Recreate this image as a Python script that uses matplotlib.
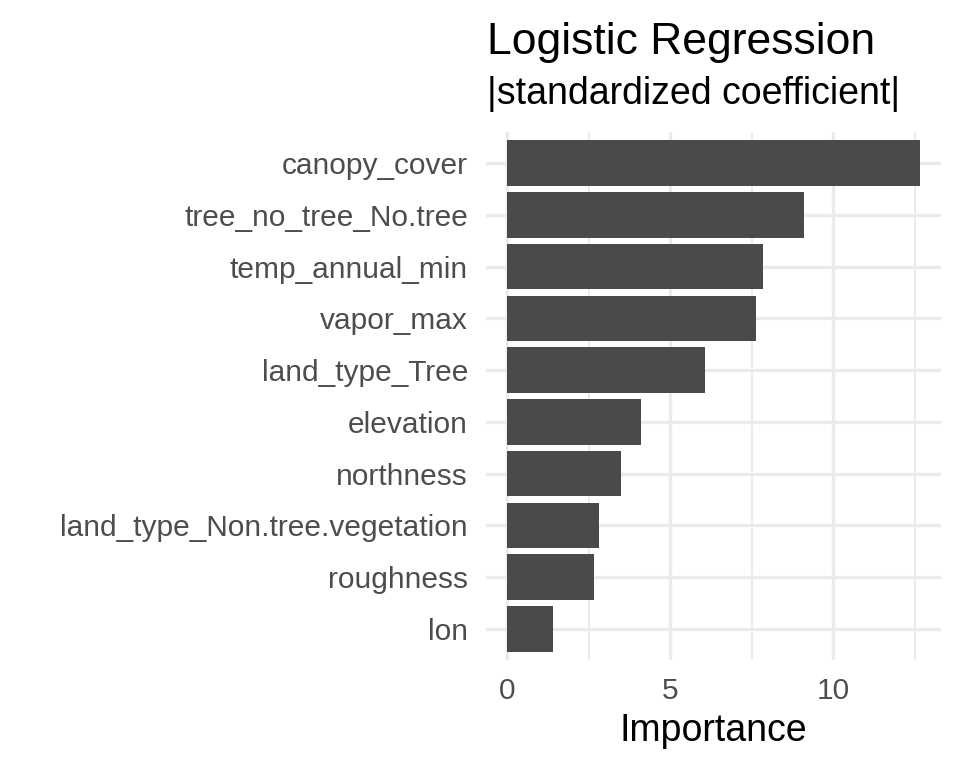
import matplotlib
matplotlib.use("Agg")
import matplotlib.pyplot as plt
import numpy as np

# values
features = ["lon", "roughness", "land_type_Non.tree.vegetation", "northness",
            "elevation", "land_type_Tree", "vapor_max", "temp_annual_min",
            "tree_no_tree_No.tree", "canopy_cover"]
importance = [1.40, 2.66, 2.82, 3.49, 4.10, 6.06, 7.63, 7.84, 9.10, 12.67]
x_ticks = [0, 5, 10]
x_minor = [2.5, 7.5, 12.5]

plt.rcParams['font.family'] = ['Liberation Sans', 'DejaVu Sans']

fig = plt.figure(figsize=(9.6, 7.68), dpi=100)
ax = fig.add_axes([486/960, 1-660/768, 455/960, 528/768])

pos = np.arange(1, len(features)+1)
ax.barh(pos, importance, height=0.88, color='#4A4A4A', zorder=3)

ax.set_xlim(-0.644, 13.31)
ax.set_ylim(0.4, len(features)+0.6)
ax.set_xticks(x_ticks)
ax.set_xticks(x_minor, minor=True)
ax.set_yticks(pos)
ax.set_yticklabels(features)
ax.tick_params(axis='both', which='both', length=0, labelsize=21.5, labelcolor='#4D4D4D')
ax.tick_params(axis='y', pad=13)
ax.tick_params(axis='x', pad=12)
for s in ax.spines.values():
    s.set_visible(False)
ax.grid(True, which='major', color='#EBEBEB', linewidth=2.4, zorder=0)
ax.grid(True, which='minor', axis='x', color='#EBEBEB', linewidth=1.4, zorder=0)
ax.set_axisbelow(True)

ax.set_xlabel("Importance", fontsize=27, color='black', labelpad=6)

fig.text(487/960, 1-54/768, "Logistic Regression", fontsize=32, color='black',
         ha='left', va='baseline')
fig.text(487/960, 1-104/768, "|standardized coefficient|", fontsize=27, color='black',
         ha='left', va='baseline')

fig.savefig("out.png", dpi=100)
